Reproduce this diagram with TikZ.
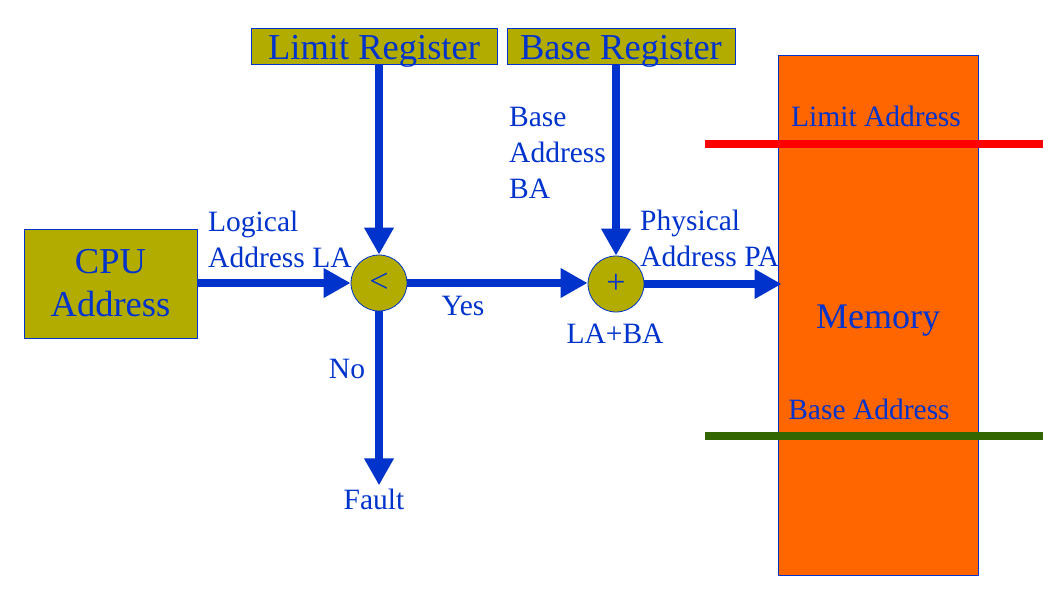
\documentclass[tikz,border=0pt]{standalone}
\usepackage{fontspec}
\setmainfont{Liberation Serif}
\usetikzlibrary{arrows.meta}
\definecolor{tblue}{RGB}{0,51,204}
\definecolor{olivebox}{RGB}{178,172,0}
\definecolor{memorange}{RGB}{255,102,0}
\definecolor{darkgreen}{RGB}{51,102,0}
\begin{document}
\begin{tikzpicture}[x=1pt,y=-1pt,
  regbox/.style={draw=tblue, line width=0.8pt, fill=olivebox, inner sep=0, text=tblue, font=\fontsize{36.5}{40}\selectfont},
  opcircle/.style={circle, draw=tblue, line width=0.8pt, fill=olivebox, minimum size=56pt, inner sep=0, text=tblue, font=\fontsize{34}{36}\selectfont},
  flow/.style={draw=tblue, line width=8.5pt, -{Triangle[length=27pt,width=28pt]}},
  lbl/.style={text=tblue, inner sep=0, font=\fontsize{29.5}{36}\selectfont},
  bar/.style={line width=8pt},
]
\useasboundingbox (0,0) rectangle (1056,593);
\fill[white] (0,0) rectangle (1056,593);

% memory block
\node[draw=tblue, line width=0.8pt, fill=memorange, minimum width=200pt, minimum height=520pt, inner sep=0, text=tblue, text height=34pt, text depth=8pt, font=\fontsize{36}{40}\selectfont] (mem) at (878,315) {Memory};
\coordinate (la1) at (705,144);
\coordinate (la2) at (1043,144);
\coordinate (ba1) at (705,436);
\coordinate (ba2) at (1043,436);
\draw[bar, red] (la1) -- (la2);
\draw[bar, darkgreen] (ba1) -- (ba2);
\node[lbl, anchor=base] (limaddr) at (876,127) {Limit Address};
\node[lbl, anchor=base] (baseaddr) at (869,419) {Base Address};

% registers and CPU
\node[regbox, minimum width=246pt, minimum height=36pt, text height=31pt, text depth=3pt] (limreg) at (374,46) {Limit Register};
\node[regbox, minimum width=228pt, minimum height=36pt, text height=31pt, text depth=3pt] (basereg) at (621,46) {Base Register};
\node[regbox, minimum width=173pt, minimum height=109pt, align=center, font=\fontsize{36.5}{43}\selectfont] (cpu) at (110.5,283.5) {\raisebox{-2.5pt}{CPU}\\\raisebox{-2.5pt}{Address}};

% operators
\node[opcircle] (cmp) at (379,283) {\textless};
\node[opcircle] (add) at (616,284) {+};

% labels
\node[lbl, anchor=north west, align=left] (lalbl) at (208,211) {Logical\\Address LA};
\node[lbl, anchor=north west, align=left] (balbl) at (509,107) {Base\\Address\\BA};
\node[lbl, anchor=north west, align=left] (palbl) at (640,210) {Physical\\Address PA};
\node[lbl, anchor=base] (yes) at (463,315) {Yes};
\node[lbl, anchor=base] (sum) at (615,343) {LA+BA};
\node[lbl, anchor=base] (no) at (347,378) {No};
\node[lbl, anchor=base] (fault) at (374,509) {Fault};

% flows
\draw[flow] (limreg.south -| cmp.north) -- (cmp.north);
\draw[flow] (basereg.south -| add.north) -- (add.north);
\draw[flow] (cpu.east |- cmp.west) -- (cmp.west);
\draw[flow] (cmp.east) -- (cmp.east -| add.west);
\draw[flow] (add.east) -- ([xshift=4pt]add.east -| mem.west);
\draw[flow, shorten >=3pt] (cmp.south) -- (cmp.south |- fault.north);
\end{tikzpicture}
\end{document}
